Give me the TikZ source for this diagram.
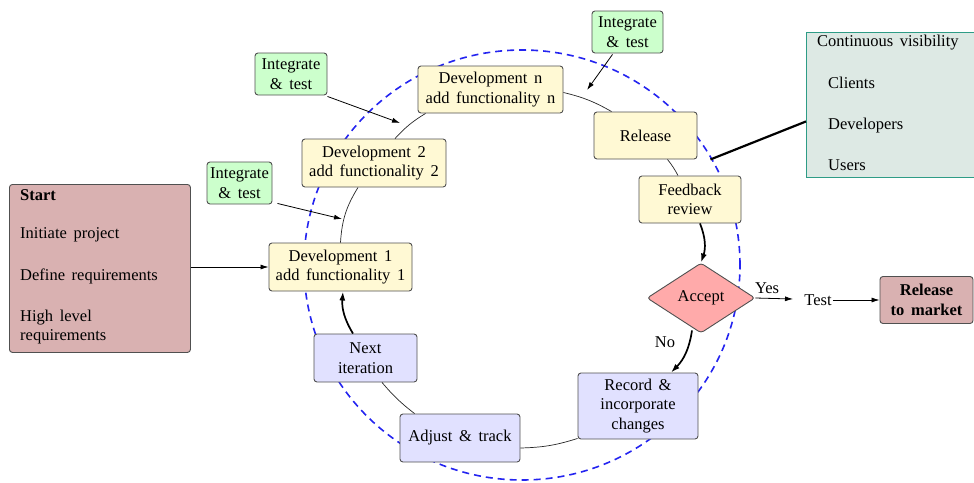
\documentclass[tikz,border=0pt]{standalone}
\usepackage{fontspec}
\setmainfont{Liberation Serif}[WordSpace=1.6]
\usetikzlibrary{shapes.geometric,arrows.meta}

\definecolor{startfill}{HTML}{D9B1B1}
\definecolor{greenfill}{HTML}{CCFFCC}
\definecolor{devfill}{HTML}{FFF9D4}
\definecolor{lavfill}{HTML}{E1E1FF}
\definecolor{pinkfill}{HTML}{FFAAAA}
\definecolor{visfill}{HTML}{DDE9E4}
\definecolor{visdraw}{HTML}{2E9C86}
\definecolor{ringblue}{HTML}{2424F0}
\definecolor{edge}{HTML}{505050}

\begin{document}
\begin{tikzpicture}[x=1pt,y=1pt,
  font=\fontsize{16.5}{19.5}\selectfont,
  box/.style={draw=edge, line width=0.9pt, rounded corners=3pt, align=center, inner sep=1pt},
  devbox/.style={box, fill=devfill},
  itbox/.style={box, fill=greenfill},
  lavbox/.style={box, fill=lavfill},
  rosebox/.style={box, fill=startfill},
  lbl/.style={inner sep=1pt, align=left},
  thinlink/.style={line width=0.7pt, black!85},
  thicklink/.style={line width=1.7pt, -{Latex[length=9pt,width=6pt]}},
  feed/.style={line width=0.8pt, -{Latex[length=8pt,width=5pt]}}
]
\useasboundingbox (0,0) rectangle (974,-482);
\clip (0,0) rectangle (974,-482);

% dashed iteration ring
\draw[ringblue, line width=1.6pt, dash pattern=on 7pt off 5pt]
  (522,-265) ellipse [x radius=218, y radius=215];

% start box with its items
\node[rosebox, minimum width=181pt, minimum height=168pt, anchor=north west] (start) at (9,-184) {};
\node[lbl, anchor=west] (startT) at (19,-195) {\bfseries Start};
\node[lbl, anchor=west] (startA) at (19,-235) {Initiate project};
\node[lbl, anchor=west] (startB) at (19,-276) {Define requirements};
\node[lbl, anchor=west] (startC) at (19,-327) {High level\\requirements};

% development steps
\node[devbox, minimum width=143pt, minimum height=48pt] (dev1) at (340.5,-267) {Development 1\\add functionality 1};
\node[devbox, minimum width=144pt, minimum height=48pt] (dev2) at (374,-163) {Development 2\\add functionality 2};
\node[devbox, minimum width=145pt, minimum height=47pt] (devn) at (490.5,-89.5) {Development n\\add functionality n};
\node[devbox, minimum width=103pt, minimum height=47pt] (release) at (645.5,-135.5) {Release};
\node[devbox, minimum width=102pt, minimum height=47pt] (feedback) at (690,-199.5) {Feedback\\review};

% integrate and test notes
\node[itbox, minimum width=65pt, minimum height=42pt] (int1) at (239.5,-183) {Integrate\\\& test};
\node[itbox, minimum width=72pt, minimum height=42pt] (int2) at (291,-74) {Integrate\\\& test};
\node[itbox, minimum width=71pt, minimum height=42pt] (int3) at (627.5,-32) {Integrate\\\& test};

% decision
\node[draw=edge, line width=0.9pt, fill=pinkfill, shape=diamond, rounded corners=3pt,
      minimum width=108pt, minimum height=70pt, inner sep=0pt] (accept) at (701,-298) {Accept};

% return path
\node[lavbox, minimum width=120pt, minimum height=66pt] (record) at (638,-406) {Record \&\\incorporate\\changes};
\node[lavbox, minimum width=120pt, minimum height=48pt] (adjust) at (460,-438) {Adjust \& track};
\node[lavbox, minimum width=103pt, minimum height=48pt] (next) at (365.5,-358) {Next\\iteration};

% visibility panel
\node[draw=visdraw, line width=0.9pt, fill=visfill, minimum width=176pt, minimum height=145pt,
      anchor=north west, inner sep=0pt] (vis) at (806,-32) {};
\node[lbl, anchor=west] (visT) at (816,-43) {Continuous visibility};
\node[lbl, anchor=west] (visA) at (827,-83) {Clients};
\node[lbl, anchor=west] (visB) at (827,-126) {Developers};
\node[lbl, anchor=west] (visC) at (827,-165) {Users};

% market release
\node[rosebox, minimum width=93pt, minimum height=47pt, font=\fontsize{16.5}{19.5}\selectfont\bfseries] (market) at (926.5,-300) {Release\\to market};
\node[lbl] (test) at (818,-300) {Test};

% labels
\node[lbl] (yes) at (767,-288) {Yes};
\node[lbl] (no) at (665,-342) {No};

% cycle connectors
\draw[thinlink] (dev1.north) to[bend left=14] ([xshift=-16pt]dev2.south);
\draw[thinlink] ([xshift=21pt]dev2.north) to[bend left=8] ([xshift=8pt]devn.south west);
\draw[thinlink] ([yshift=-3pt]devn.east) to[bend left=8] ([xshift=18pt]release.north west);
\draw[thinlink] ([xshift=22pt]release.south) to[bend left=5] ([xshift=-12pt]feedback.north);
\draw[thicklink] ([xshift=10pt]feedback.south) to[bend left=20] (accept.north);
\draw[thicklink] ([xshift=-9pt,yshift=3pt]accept.south) to[bend left=18] ([xshift=33pt]record.north);
\draw[thinlink] ([yshift=1pt]record.south west) to[bend left=8] ([yshift=-10pt]adjust.east);
\draw[thinlink] ([xshift=15pt]adjust.north west) to[bend left=6] ([xshift=16.5pt]next.south);
\draw[thicklink] ([xshift=-12.5pt]next.north) to[bend left=18] ([xshift=2.5pt]dev1.south);

% inputs into the cycle
\coordinate (in1) at (342,-219);
\coordinate (in2) at (400,-123);
\coordinate (in3) at (587,-90);
\draw[feed] ([xshift=5pt,yshift=1pt]int1.south east) -- (in1);
\draw[feed] ([yshift=-1pt]int2.south east) -- (in2);
\draw[feed] ([xshift=-15pt,yshift=-1pt]int3.south) -- (in3);
\draw[feed] (start.east |- dev1.west) -- (dev1.west);

% outputs
\coordinate (yesend) at (793,-299);
\draw[feed] (accept.east) -- (yesend);
\draw[feed] (test.east) -- (market.west);
\draw[line width=2.2pt] ([xshift=13pt]release.south east) -- ([yshift=-16.5pt]vis.west);
\end{tikzpicture}
\end{document}
